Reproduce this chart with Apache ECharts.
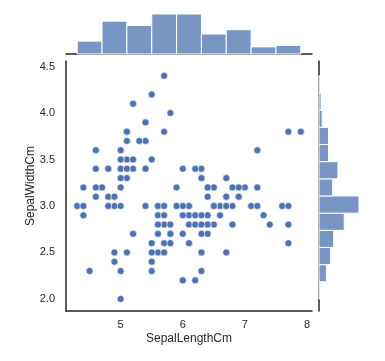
<!DOCTYPE html>
<html>
<head>
<meta charset="utf-8">
<script src="https://cdn.jsdelivr.net/npm/echarts@6/dist/echarts.min.js"></script>
<style>
html,body{margin:0;padding:0;background:#fff;}
#chart{width:385px;height:361px;}
</style>
</head>
<body>
<div id="chart"></div>
<script>
// Sepal length / width pairs (Iris dataset as plotted)
const sepalLength = [
5.1,4.9,4.7,4.6,5.0,5.4,4.6,5.0,4.4,4.9,5.4,4.8,4.8,4.3,5.8,5.7,5.4,5.1,5.7,5.1,5.4,5.1,4.6,5.1,4.8,5.0,5.0,5.2,5.2,4.7,4.8,5.4,5.2,5.5,4.9,5.0,5.5,4.9,4.4,5.1,5.0,4.5,4.4,5.0,5.1,4.8,5.1,4.6,5.3,5.0,
7.0,6.4,6.9,5.5,6.5,5.7,6.3,4.9,6.6,5.2,5.0,5.9,6.0,6.1,5.6,6.7,5.6,5.8,6.2,5.6,5.9,6.1,6.3,6.1,6.4,6.6,6.8,6.7,6.0,5.7,5.5,5.5,5.8,6.0,5.4,6.0,6.7,6.3,5.6,5.5,5.5,6.1,5.8,5.0,5.6,5.7,5.7,6.2,5.1,5.7,
6.3,5.8,7.1,6.3,6.5,7.6,4.9,7.3,6.7,7.2,6.5,6.4,6.8,5.7,5.8,6.4,6.5,7.7,7.7,6.0,6.9,5.6,7.7,6.3,6.7,7.2,6.2,6.1,6.4,7.2,7.4,7.9,6.4,6.3,6.1,7.7,6.3,6.4,6.0,6.9,6.7,6.9,5.8,6.8,6.7,6.7,6.3,6.5,6.2,5.9
];
const sepalWidth = [
3.5,3.0,3.2,3.1,3.6,3.9,3.4,3.4,2.9,3.1,3.7,3.4,3.0,3.0,4.0,4.4,3.9,3.5,3.8,3.8,3.4,3.7,3.6,3.3,3.4,3.0,3.4,3.5,3.4,3.2,3.1,3.4,4.1,4.2,3.1,3.2,3.5,3.1,3.0,3.4,3.5,2.3,3.2,3.5,3.8,3.0,3.8,3.2,3.7,3.3,
3.2,3.2,3.1,2.3,2.8,2.8,3.3,2.4,2.9,2.7,2.0,3.0,2.2,2.9,2.9,3.1,3.0,2.7,2.2,2.5,3.2,2.8,2.5,2.8,2.9,3.0,2.8,3.0,2.9,2.6,2.4,2.4,2.7,2.7,3.0,3.4,3.1,2.3,3.0,2.5,2.6,3.0,2.6,2.3,2.7,3.0,2.9,2.9,2.5,2.8,
3.3,2.7,3.0,2.9,3.0,3.0,2.5,2.9,2.5,3.6,3.2,2.7,3.0,2.5,2.8,3.2,3.0,3.8,2.6,2.2,3.2,2.8,2.8,2.7,3.3,3.2,2.8,3.0,2.8,3.0,2.8,3.8,2.8,2.8,2.6,3.0,3.4,3.1,3.0,3.1,3.1,3.1,2.7,3.2,3.3,3.0,2.5,3.0,3.4,3.0
];
// Marginal histograms
const lengthBinEdges = [4.3,4.7,5.1,5.5,5.9,6.3,6.7,7.1,7.5,7.9];
const lengthCounts = [9,23,20,28,28,14,17,5,6];
const widthBinEdges = [2.0,2.185,2.369,2.554,2.738,2.923,3.108,3.292,3.477,3.662,3.846,4.031,4.215,4.4];
const widthCounts = [1,7,11,14,24,38,13,18,9,9,3,2,1];
// Tick labels
const xTicks = [5,6,7,8];
const yTicks = [2.0,2.5,3.0,3.5,4.0,4.5];
const xName = 'SepalLengthCm';
const yName = 'SepalWidthCm';

const scatterData = sepalLength.map((v,i)=>[v, sepalWidth[i]]);
const topHist = lengthCounts.map((c,i)=>[lengthBinEdges[i], lengthBinEdges[i+1], c]);
const rightHist = widthCounts.map((c,i)=>[widthBinEdges[i], widthBinEdges[i+1], c]);

const TXT = '#262626';
const FONT = '"Liberation Sans", Arial, sans-serif';
const BAR = 'rgb(121,149,196)';
const AXLINE = {show:true, lineStyle:{color:'#262626', width:1.5}};

const chart = echarts.init(document.getElementById('chart'), null, {renderer:'canvas'});
chart.setOption({
  animation:false,
  backgroundColor:'#fff',
  grid:[
    {left:66, top:61, width:246, height:250},
    {left:66, top:12, width:246, height:42},
    {left:319, top:61, width:42, height:250}
  ],
  xAxis:[
    {gridIndex:0, type:'value', min:4.12, max:8.08,
     name:xName, nameLocation:'middle', nameGap:22, nameMoveOverlap:false,
     nameTextStyle:{color:TXT, fontSize:12, fontFamily:FONT},
     axisLine:AXLINE, axisTick:{show:false}, splitLine:{show:false},
     axisLabel:{customValues:xTicks, color:TXT, fontSize:11, fontFamily:FONT, margin:8}},
    {gridIndex:1, type:'value', min:4.12, max:8.08,
     axisLine:AXLINE, axisTick:{show:false}, splitLine:{show:false}, axisLabel:{show:false}},
    {gridIndex:2, type:'value', min:0, max:39.9, show:true,
     axisLine:{show:false}, axisTick:{show:false}, splitLine:{show:false}, axisLabel:{show:false}}
  ],
  yAxis:[
    {gridIndex:0, type:'value', min:1.87, max:4.56,
     name:yName, nameLocation:'middle', nameGap:29, nameMoveOverlap:false,
     nameTextStyle:{color:TXT, fontSize:12, fontFamily:FONT},
     axisLine:AXLINE, axisTick:{show:false}, splitLine:{show:false},
     axisLabel:{customValues:yTicks, color:TXT, fontSize:11, fontFamily:FONT, margin:11,
       formatter:v=>Number(v).toFixed(1)}},
    {gridIndex:1, type:'value', min:0, max:29.4,
     axisLine:{show:false}, axisTick:{show:false}, splitLine:{show:false}, axisLabel:{show:false}},
    {gridIndex:2, type:'value', min:1.87, max:4.56,
     axisLine:AXLINE, axisTick:{show:false}, splitLine:{show:false}, axisLabel:{show:false}}
  ],
  series:[
    {type:'scatter', xAxisIndex:0, yAxisIndex:0, data:scatterData,
     symbolSize:7, itemStyle:{color:'#4c72b0', borderColor:'#fff', borderWidth:0.6, opacity:1}},
    {type:'custom', xAxisIndex:1, yAxisIndex:1, data:topHist,
     renderItem:(params, api)=>{
       const p0 = api.coord([api.value(0), 0]);
       const p1 = api.coord([api.value(1), api.value(2)]);
       return {type:'rect', shape:{x:p0[0], y:p1[1], width:p1[0]-p0[0], height:p0[1]-p1[1]},
               style:{fill:BAR, stroke:'#fff', lineWidth:1}};
     }, z:1},
    {type:'custom', xAxisIndex:2, yAxisIndex:2, data:rightHist,
     encode:{x:2, y:[0,1]},
     renderItem:(params, api)=>{
       const p0 = api.coord([0, api.value(0)]);
       const p1 = api.coord([api.value(2), api.value(1)]);
       return {type:'rect', shape:{x:p0[0], y:p1[1], width:p1[0]-p0[0], height:p0[1]-p1[1]},
               style:{fill:BAR, stroke:'#fff', lineWidth:1}};
     }, z:1}
  ]
});
</script>
</body>
</html>
